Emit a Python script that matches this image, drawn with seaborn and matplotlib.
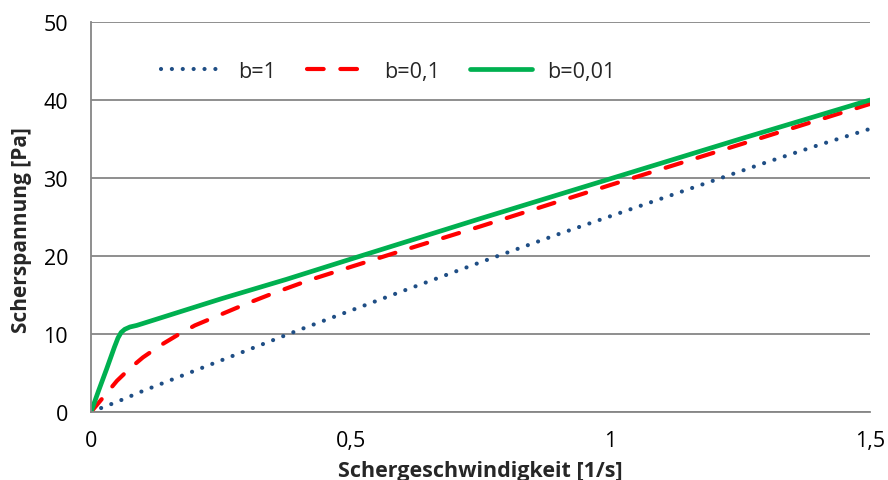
import matplotlib
matplotlib.use("Agg")
import matplotlib.pyplot as plt
import seaborn as sns
import pandas as pd
from matplotlib.ticker import FuncFormatter, MultipleLocator

# Data
x_b1 = [0, 0.05, 0.1, 0.2, 0.3, 0.4, 0.5, 0.6, 0.75, 0.9, 1.0, 1.1, 1.2, 1.3, 1.4, 1.5]
y_b1 = [0, 1.3, 2.7, 5.3, 7.9, 10.5, 13.0, 15.5, 19.2, 22.8, 25.1, 27.4, 29.7, 32.0, 34.2, 36.3]

x_b01 = [0, 0.025, 0.05, 0.075, 0.1, 0.135, 0.17, 0.2, 0.25, 0.3, 0.35, 0.42, 0.5, 0.6, 0.75, 1.0, 1.25, 1.5]
y_b01 = [0, 2.0, 4.0, 5.6, 7.0, 8.6, 10.0, 11.1, 12.5, 13.9, 15.2, 16.9, 18.6, 20.7, 23.8, 29.1, 34.3, 39.5]

x_b001 = [0, 0.015, 0.03, 0.045, 0.052, 0.058, 0.065, 0.075, 0.088, 0.1, 0.15, 0.25, 0.376, 0.5, 0.75, 1.0, 1.25, 1.5]
y_b001 = [0, 2.8, 5.5, 8.3, 9.5, 10.2, 10.6, 10.9, 11.1, 11.35, 12.4, 14.5, 17.0, 19.6, 24.8, 29.9, 35.0, 40.0]

labels = ["b=1", "b=0,1", "b=0,01"]
colors = ["#1F4E85", "#FF0000", "#00B050"]

sns.set_style("white")
plt.rcParams['font.family'] = ['Open Sans', 'DejaVu Sans']

df = pd.concat([
    pd.DataFrame({"x": x_b1, "y": y_b1, "serie": labels[0]}),
    pd.DataFrame({"x": x_b01, "y": y_b01, "serie": labels[1]}),
    pd.DataFrame({"x": x_b001, "y": y_b001, "serie": labels[2]}),
])

fig = plt.figure(figsize=(8.88, 4.81), dpi=100)
ax = fig.add_axes([91/888, 1 - 413/481, (870 - 91)/888, (413 - 23)/481])

styles = [
    dict(lw=3.0, linestyle=(0, (0.01, 2.6)), dash_capstyle="round"),
    dict(lw=3.0, linestyle=(0, (4.0, 4.0)), dash_capstyle="round"),
    dict(lw=3.4, linestyle="-", solid_capstyle="round", solid_joinstyle="round"),
]
for lab, col, st in zip(labels, colors, styles):
    sub = df[df["serie"] == lab]
    sns.lineplot(data=sub, x="x", y="y", ax=ax, color=col, label=lab, sort=False, **st)

ax.set_xlim(0, 1.5)
ax.set_ylim(0, 50)
ax.xaxis.set_major_locator(MultipleLocator(0.5))
ax.yaxis.set_major_locator(MultipleLocator(10))

def fmt(v, pos):
    return ("%g" % round(v, 3)).replace(".", ",")
ax.xaxis.set_major_formatter(FuncFormatter(fmt))
ax.yaxis.set_major_formatter(FuncFormatter(fmt))

ax.grid(axis="y", color="#868686", lw=1.3)
ax.grid(axis="x", visible=False)
for s in ["top", "right"]:
    ax.spines[s].set_visible(False)
for s in ["left", "bottom"]:
    ax.spines[s].set_color("#868686")
    ax.spines[s].set_linewidth(1.3)

ax.tick_params(axis="both", which="major", direction="out", color="#868686",
               width=1.3, labelsize=15.5, labelcolor="black")
ax.tick_params(axis="y", length=6.5, pad=10)
ax.tick_params(axis="x", length=5, pad=8)

ax.set_xlabel("Schergeschwindigkeit [1/s]", fontsize=15.5, fontweight="bold")
ax.xaxis.set_label_coords(0.5, -0.122)
ax.xaxis.label.set_va("top")
ax.set_ylabel("Scherspannung [Pa]", fontsize=15, fontweight="bold")
ax.yaxis.set_label_coords(-0.076, 0.469)

leg = ax.legend(loc="center left", bbox_to_anchor=(0.065, 0.874), ncol=3, frameon=False,
                fontsize=15.5, handlelength=2.9, columnspacing=1.4, handletextpad=0.7)

fig.savefig("out.png", dpi=100)
